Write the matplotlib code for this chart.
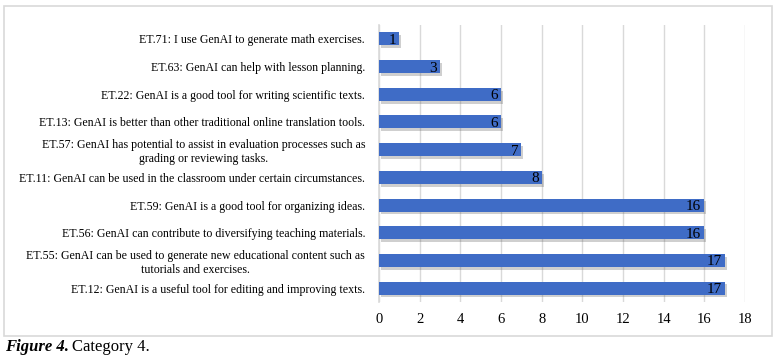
import matplotlib.pyplot as plt
import matplotlib.patheffects as pe
from matplotlib.patches import Rectangle

# data, top to bottom as in the chart
labels = [
    "ET.71: I use GenAI to generate math exercises.",
    "ET.63: GenAI can help with lesson planning.",
    "ET.22: GenAI is a good tool for writing scientific texts.",
    "ET.13: GenAI is better than other traditional online translation tools.",
    "ET.57: GenAI has potential to assist in evaluation processes such as\ngrading or reviewing tasks.",
    "ET.11: GenAI can be used in the classroom under certain circumstances.",
    "ET.59: GenAI is a good tool for organizing ideas.",
    "ET.56: GenAI can contribute to diversifying teaching materials.",
    "ET.55: GenAI can be used to generate new educational content such as\ntutorials and exercises.",
    "ET.12: GenAI is a useful tool for editing and improving texts.",
]
counts = [1, 3, 6, 6, 7, 8, 16, 16, 17, 17]
xticks = [0, 2, 4, 6, 8, 10, 12, 14, 16, 18]

plt.rcParams['font.family'] = ['Liberation Serif', 'DejaVu Serif']

fig = plt.figure(figsize=(7.78, 3.61), dpi=100)
W, H = 778, 361

# light frame round the chart
fig.patches.append(Rectangle((4 / W, 1 - 336 / H), 768 / W, 330 / H,
                             transform=fig.transFigure, fill=False,
                             edgecolor='#D9D9D9', linewidth=1.2))

ax = fig.add_axes([379 / W, 1 - 302 / H, 366 / W, 277 / H])
ypos = list(range(len(counts)))
bars = ax.barh(ypos, counts, height=0.47, color='#3F6CC6', zorder=3)
for b in bars:
    b.set_path_effects([pe.SimplePatchShadow(offset=(1.5, -2), shadow_rgbFace='#606060', alpha=0.3),
                        pe.Normal()])

for y, v in zip(ypos, counts):
    ax.text(v - 0.15, y, str(v), ha='right', va='center_baseline', fontsize=11, color='black', zorder=4)

ax.set_ylim(len(counts) - 0.5, -0.5)
ax.set_xlim(0, 18)
ax.set_xticks(xticks)
ax.set_yticks(ypos)
ax.set_yticklabels(labels, fontsize=8.6, multialignment='center')
ax.tick_params(axis='y', length=0, pad=10)
ax.tick_params(axis='x', length=0, pad=8, labelsize=10.5)
ax.xaxis.grid(True, color='#D9D9D9', linewidth=1, zorder=0)
for s in ['top', 'right', 'bottom']:
    ax.spines[s].set_visible(False)
ax.spines['left'].set_color('#D9D9D9')
ax.spines['left'].set_linewidth(1.2)

fig.text(5 / W, 1 - 347 / H, "Figure 4.", fontsize=12, fontweight='bold', fontstyle='italic', va='center')
fig.text(72 / W, 1 - 347 / H, "Category 4.", fontsize=12, va='center')

fig.savefig('out.png', dpi=100)
